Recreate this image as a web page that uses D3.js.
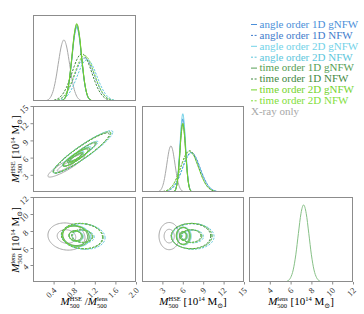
<!DOCTYPE html>
<meta charset="utf-8">
<head>
<script src="https://cdn.jsdelivr.net/npm/d3@7"></script>
<style>
    body { margin: 0; background: #fff; }
    text { font-family: "Liberation Serif", "DejaVu Serif", serif; white-space: pre; }
    .frame { fill: none; stroke: #8c8c8c; stroke-width: 1; }
    .axis line { stroke: #8c8c8c; }
    .axis text { font-size: 8.5px; fill: #333; }
</style>
</head>
<body>
<script>

// series (legend order)
var seriesNames = ["angle order 1D gNFW", "angle order 1D NFW", "angle order 2D gNFW", "angle order 2D NFW",
    "time order 1D gNFW", "time order 1D NFW", "time order 2D gNFW", "time order 2D NFW"];
var seriesColors = ["#4b8fd9", "#3f7ccc", "#72d2e8", "#5cc6dc", "#559e55", "#3f883f", "#74d42c", "#82de3a"];
var seriesDashed = [false, true, false, true, false, true, false, true];
var xrayName = "X-ray only";
var xrayColor = "#a8a8a8";

// tick labels
var ratioTicks = [0.4, 0.8, 1.2, 1.6, 2.0];
var hseTicks = [3, 6, 9, 12, 15];
var lensTicks = [4, 6, 8, 10, 12];

// 1D marginal densities (relative height), ratio M_HSE/M_lens
var ratioGrid = [0.20,0.25,0.30,0.35,0.40,0.45,0.50,0.55,0.60,0.65,0.70,0.75,0.80,0.85,0.90,0.95,1.00,
    1.05,1.10,1.15,1.20,1.25,1.30,1.35,1.40,1.45,1.50,1.55,1.60,1.65,1.70,1.75,1.80];
var ratioXray = [0.001,0.004,0.017,0.054,0.136,0.28,0.47,0.64,0.71,0.64,0.47,0.28,0.136,0.054,0.017,0.004,0.001,
    0,0,0,0,0,0,0,0,0,0,0,0,0,0,0,0];
var ratioDens = [
    [0,0,0,0,0,0,0,0.003,0.018,0.073,0.214,0.464,0.737,0.86,0.737,0.464,0.214,0.073,0.018,0.003,0,0,0,0,0,0,0,0,0,0,0,0,0],
    [0,0,0.0005,0.001,0.003,0.008,0.016,0.03,0.055,0.092,0.144,0.211,0.288,0.366,0.436,0.483,0.5,0.483,0.436,0.366,0.288,0.211,0.144,0.092,0.055,0.03,0.016,0.008,0.003,0.001,0.0005,0,0],
    [0,0,0,0,0,0,0,0.003,0.018,0.074,0.217,0.47,0.746,0.87,0.746,0.47,0.217,0.074,0.018,0.003,0,0,0,0,0,0,0,0,0,0,0,0,0],
    [0,0,0,0,0.001,0.003,0.007,0.015,0.029,0.052,0.088,0.138,0.202,0.276,0.351,0.418,0.464,0.48,0.464,0.418,0.351,0.276,0.202,0.138,0.088,0.052,0.029,0.015,0.007,0.003,0.001,0,0],
    [0,0,0,0,0,0,0,0.003,0.019,0.075,0.222,0.481,0.763,0.89,0.763,0.481,0.222,0.075,0.019,0.003,0,0,0,0,0,0,0,0,0,0,0,0,0],
    [0,0.001,0.002,0.004,0.008,0.017,0.033,0.06,0.101,0.158,0.232,0.316,0.403,0.479,0.531,0.55,0.531,0.479,0.403,0.316,0.232,0.158,0.101,0.06,0.033,0.017,0.008,0.004,0.002,0.001,0,0,0],
    [0,0,0,0,0,0,0,0.004,0.019,0.076,0.224,0.486,0.771,0.9,0.771,0.486,0.224,0.076,0.019,0.004,0,0,0,0,0,0,0,0,0,0,0,0,0],
    [0,0,0.001,0.002,0.004,0.008,0.017,0.032,0.058,0.097,0.152,0.223,0.305,0.388,0.462,0.512,0.53,0.512,0.462,0.388,0.305,0.223,0.152,0.097,0.058,0.032,0.017,0.008,0.004,0.002,0.001,0,0]
];

// 1D marginal densities, M500 grid [1e14 Msun]
var massGrid = [2,2.25,2.5,2.75,3,3.25,3.5,3.75,4,4.25,4.5,4.75,5,5.25,5.5,5.75,6,6.25,6.5,6.75,7,
    7.25,7.5,7.75,8,8.25,8.5,8.75,9,9.25,9.5,9.75,10,10.25,10.5,10.75,11,11.25,11.5,11.75,12];
var hseXray = [0.0005,0.002,0.0075,0.024,0.061,0.133,0.245,0.378,0.491,0.535,0.491,0.378,0.245,0.133,0.061,0.024,0.0075,0.002,0.0005,
    0,0,0,0,0,0,0,0,0,0,0,0,0,0,0,0,0,0,0,0,0,0];
var hseDens = [
    [0,0,0,0,0,0,0,0,0,0,0.001,0.008,0.043,0.16,0.404,0.706,0.85,0.706,0.404,0.16,0.043,0.008,0.001,0,0,0,0,0,0,0,0,0,0,0,0,0,0,0,0,0,0],
    [0,0.0003,0.0006,0.001,0.002,0.004,0.007,0.012,0.02,0.032,0.049,0.072,0.103,0.141,0.186,0.236,0.29,0.342,0.39,0.427,0.452,0.46,0.452,0.427,0.39,0.342,0.29,0.236,0.186,0.141,0.103,0.072,0.049,0.032,0.02,0.012,0.007,0.004,0.002,0.001,0.0006],
    [0,0,0,0,0,0,0,0,0,0,0.001,0.009,0.046,0.171,0.432,0.755,0.91,0.755,0.432,0.171,0.046,0.009,0.001,0,0,0,0,0,0,0,0,0,0,0,0,0,0,0,0,0,0],
    [0,0.0003,0.0006,0.001,0.002,0.004,0.007,0.012,0.02,0.032,0.048,0.071,0.101,0.138,0.182,0.231,0.284,0.335,0.381,0.418,0.442,0.45,0.442,0.418,0.381,0.335,0.284,0.231,0.182,0.138,0.101,0.071,0.048,0.032,0.02,0.012,0.007,0.004,0.002,0.001,0.0006],
    [0,0,0,0,0,0,0,0,0,0,0.001,0.008,0.04,0.149,0.375,0.656,0.79,0.656,0.375,0.149,0.04,0.008,0.001,0,0,0,0,0,0,0,0,0,0,0,0,0,0,0,0,0,0],
    [0.0003,0.0006,0.001,0.002,0.004,0.008,0.013,0.021,0.034,0.051,0.075,0.108,0.147,0.194,0.247,0.302,0.357,0.407,0.446,0.471,0.48,0.471,0.446,0.407,0.357,0.302,0.247,0.194,0.147,0.108,0.075,0.051,0.034,0.021,0.013,0.008,0.004,0.002,0.001,0.0006,0.0003],
    [0,0,0,0,0,0,0,0,0,0,0.001,0.008,0.041,0.15,0.38,0.664,0.8,0.664,0.38,0.15,0.041,0.008,0.001,0,0,0,0,0,0,0,0,0,0,0,0,0,0,0,0,0,0],
    [0.0003,0.0006,0.001,0.002,0.004,0.0075,0.013,0.021,0.033,0.05,0.074,0.105,0.144,0.19,0.242,0.296,0.35,0.398,0.437,0.462,0.47,0.462,0.437,0.398,0.35,0.296,0.242,0.19,0.144,0.105,0.074,0.05,0.033,0.021,0.013,0.0075,0.004,0.002,0.001,0.0006,0.0003]
];
var lensDens = [0,0,0,0,0,0,0,0,0,0,0,0,0,0.0005,0.003,0.0145,0.051,0.142,0.32,0.571,0.808,0.907,0.808,0.571,0.32,0.142,0.051,0.0145,0.003,0.0005,
    0,0,0,0,0,0,0,0,0,0,0];
var lensColor = "#86c086";

// 2D contours: [centre x, centre y, sigma x, sigma y, correlation], drawn at 1 and 2 sigma
var contourLevels = [1, 2];
var ratioHseXray = [0.65, 4.6, 0.18, 1.0, 0.9];
var ratioHseEll = [
    [0.84, 6.1, 0.13, 0.8, 0.9], [0.95, 6.9, 0.28, 1.8, 0.93],
    [0.85, 6.2, 0.14, 0.85, 0.9], [0.97, 7.0, 0.29, 1.85, 0.93],
    [0.83, 6.0, 0.12, 0.75, 0.9], [0.94, 6.8, 0.27, 1.75, 0.93],
    [0.84, 6.1, 0.13, 0.8, 0.9], [0.95, 6.9, 0.28, 1.8, 0.93]
];
var ratioLensXray = [0.65, 7.35, 0.18, 0.8, -0.1];
var ratioLensEll = [
    [0.83, 7.4, 0.13, 0.6, -0.1], [0.96, 7.4, 0.2, 0.75, -0.1],
    [0.84, 7.4, 0.14, 0.62, -0.1], [0.98, 7.35, 0.21, 0.75, -0.1],
    [0.82, 7.45, 0.12, 0.58, -0.1], [0.95, 7.4, 0.2, 0.74, -0.1],
    [0.83, 7.4, 0.13, 0.6, -0.1], [0.96, 7.4, 0.2, 0.75, -0.1]
];
var hseLensXray = [4.0, 7.4, 0.75, 0.8, 0];
var hseLensEll = [
    [6.1, 7.4, 0.5, 0.5, 0], [7.3, 7.4, 1.5, 0.75, 0],
    [6.2, 7.4, 0.52, 0.52, 0], [7.5, 7.35, 1.55, 0.75, 0],
    [6.0, 7.45, 0.48, 0.5, 0], [7.2, 7.4, 1.45, 0.74, 0],
    [6.1, 7.4, 0.5, 0.5, 0], [7.3, 7.4, 1.5, 0.75, 0]
];

var width = 364, height = 314;
var svg = d3.select("body").append("svg")
    .attr("width", width)
    .attr("height", height);

// scales
var xRatio = d3.scaleLinear().domain([0, 2]).range([33, 136]);
var xHse = d3.scaleLinear().domain([0, 15]).range([142, 244]);
var xLens = d3.scaleLinear().domain([2, 12]).range([249, 353]);
var yHse = d3.scaleLinear().domain([0, 15]).range([192, 106]);
var yLens = d3.scaleLinear().domain([2, 12]).range([282, 197]);
var yDens1 = d3.scaleLinear().domain([0, 1]).range([101, 15]);
var yDens2 = d3.scaleLinear().domain([0, 1]).range([192, 106]);
var yDens3 = d3.scaleLinear().domain([0, 1]).range([282, 197]);

var clipId = 0;
function panel(xs, ys) {
    var x0 = xs.range()[0], x1 = xs.range()[1], y0 = ys.range()[1], y1 = ys.range()[0];
    var id = "clip" + (clipId++);
    svg.append("clipPath").attr("id", id).append("rect")
        .attr("x", x0).attr("y", y0).attr("width", x1 - x0).attr("height", y1 - y0);
    var g = svg.append("g").attr("clip-path", "url(#" + id + ")");
    g.frame = function () {
        svg.append("rect").attr("class", "frame")
            .attr("x", x0 + 0.5).attr("y", y0 + 0.5)
            .attr("width", x1 - x0 - 1).attr("height", y1 - y0 - 1);
    };
    return g;
}

function drawHist(g, xs, ys, grid, dens, color, dashed) {
    var line = d3.line()
        .x(function (d, i) { return xs(grid[i]); })
        .y(function (d) { return ys(d); })
        .curve(d3.curveMonotoneX);
    g.append("path")
        .attr("d", line(dens))
        .attr("fill", "none")
        .attr("stroke", color)
        .attr("stroke-width", 1)
        .attr("stroke-dasharray", dashed ? "2.2,1.4" : null);
}

function drawEllipses(g, xs, ys, p, color, dashed) {
    var steps = d3.range(0, 2 * Math.PI, Math.PI / 40);
    contourLevels.forEach(function (r) {
        var pts = steps.map(function (t) {
            var u = Math.cos(t), v = Math.sin(t);
            return [xs(p[0] + r * p[2] * u), ys(p[1] + r * p[3] * (p[4] * u + Math.sqrt(1 - p[4] * p[4]) * v))];
        });
        g.append("path")
            .attr("d", d3.line().curve(d3.curveLinearClosed)(pts))
            .attr("fill", "none")
            .attr("stroke", color)
            .attr("stroke-width", 1)
            .attr("stroke-dasharray", dashed ? "2.2,1.4" : null);
    });
}

// top-left: ratio marginal
var pA = panel(xRatio, yDens1);
drawHist(pA, xRatio, yDens1, ratioGrid, ratioXray, xrayColor, false);
ratioDens.forEach(function (d, i) { drawHist(pA, xRatio, yDens1, ratioGrid, d, seriesColors[i], seriesDashed[i]); });
pA.frame();

// middle-left: ratio vs M_HSE
var pB = panel(xRatio, yHse);
drawEllipses(pB, xRatio, yHse, ratioHseXray, xrayColor, false);
ratioHseEll.forEach(function (p, i) { drawEllipses(pB, xRatio, yHse, p, seriesColors[i], seriesDashed[i]); });
pB.frame();

// middle: M_HSE marginal
var pC = panel(xHse, yDens2);
drawHist(pC, xHse, yDens2, massGrid, hseXray, xrayColor, false);
hseDens.forEach(function (d, i) { drawHist(pC, xHse, yDens2, massGrid, d, seriesColors[i], seriesDashed[i]); });
pC.frame();

// bottom-left: ratio vs M_lens
var pD = panel(xRatio, yLens);
drawEllipses(pD, xRatio, yLens, ratioLensXray, xrayColor, false);
ratioLensEll.forEach(function (p, i) { drawEllipses(pD, xRatio, yLens, p, seriesColors[i], seriesDashed[i]); });
pD.frame();

// bottom-middle: M_HSE vs M_lens
var pE = panel(xHse, yLens);
drawEllipses(pE, xHse, yLens, hseLensXray, xrayColor, false);
hseLensEll.forEach(function (p, i) { drawEllipses(pE, xHse, yLens, p, seriesColors[i], seriesDashed[i]); });
pE.frame();

// bottom-right: M_lens marginal
var pF = panel(xLens, yDens3);
drawHist(pF, xLens, yDens3, massGrid, lensDens, lensColor, false);
pF.frame();

// axes
function bottomAxis(xs, ticks, fmt) {
    svg.append("g").attr("class", "axis")
        .attr("transform", "translate(0,282)")
        .call(d3.axisBottom(xs).tickValues(ticks).tickSize(2.5).tickFormat(fmt))
        .call(function (g) { g.select(".domain").remove(); })
        .selectAll("text")
        .attr("x", 0).attr("y", 0).attr("dy", 0)
        .attr("transform", "translate(3,9) rotate(-45)")
        .style("text-anchor", "end");
}
function leftAxis(ys, ticks) {
    svg.append("g").attr("class", "axis")
        .attr("transform", "translate(33,0)")
        .call(d3.axisLeft(ys).tickValues(ticks).tickSize(2.5).tickFormat(d3.format("d")))
        .call(function (g) { g.select(".domain").remove(); })
        .selectAll("text")
        .attr("x", 0).attr("y", 0).attr("dy", 0)
        .attr("transform", "translate(-4,2) rotate(-45)")
        .style("text-anchor", "end");
}
bottomAxis(xRatio, ratioTicks, d3.format(".1f"));
bottomAxis(xHse, hseTicks, d3.format("d"));
bottomAxis(xLens, lensTicks, d3.format("d"));
leftAxis(yHse, hseTicks);
leftAxis(yLens, lensTicks);

// axis titles with stacked super/subscripts
function richLabel(parent, pieces) {
    var g = parent.append("g"), x = 0;
    pieces.forEach(function (p) {
        if (p.stack) {
            var a = g.append("text").attr("x", x).attr("y", -4.3).style("font-size", "6.5px").text(p.stack[0]);
            var b = g.append("text").attr("x", x).attr("y", 2.8).style("font-size", "6.5px").text(p.stack[1]);
            x += Math.max(a.node().getComputedTextLength(), b.node().getComputedTextLength());
        } else {
            var t = g.append("text").attr("x", x).attr("y", p.dy || 0)
                .style("font-size", (p.size || 11) + "px")
                .style("font-style", p.italic ? "italic" : "normal")
                .text(p.text);
            x += t.node().getComputedTextLength();
        }
    });
    g.selectAll("text").attr("transform", "translate(" + (-x / 2) + ",0)");
    return g;
}
function massPieces(sup) {
    return [{text: "M", italic: true}, {stack: [sup, "500"]}, {text: " [10"},
        {text: "14", size: 6.5, dy: -4.3}, {text: " M"}, {text: "\u2299", size: 7, dy: 2.5}, {text: "]"}];
}
richLabel(svg, [{text: "M", italic: true}, {stack: ["HSE", "500"]}, {text: " /"},
    {text: "M", italic: true}, {stack: ["lens", "500"]}])
    .attr("transform", "translate(84,305)");
richLabel(svg, massPieces("HSE")).attr("transform", "translate(193,305)");
richLabel(svg, massPieces("lens")).attr("transform", "translate(301,305)");
richLabel(svg, massPieces("HSE")).attr("transform", "translate(19,149) rotate(-90)");
richLabel(svg, massPieces("lens")).attr("transform", "translate(19,240) rotate(-90)");

// legend
var legend = svg.append("g").attr("transform", "translate(251,24)");
seriesNames.forEach(function (name, i) {
    var row = legend.append("g").attr("transform", "translate(0," + (i * 10.9) + ")");
    row.append("line")
        .attr("x1", 0).attr("x2", 6).attr("y1", 0.5).attr("y2", 0.5)
        .attr("stroke", seriesColors[i]).attr("stroke-width", 1)
        .attr("stroke-dasharray", seriesDashed[i] ? "2,1.6" : null);
    row.append("text").attr("x", 8.5).attr("y", 3.8)
        .style("font-size", "11px").attr("fill", seriesColors[i]).text(name);
});
legend.append("text").attr("x", 0).attr("y", 8 * 10.9 + 3.8)
    .style("font-size", "11px").attr("fill", xrayColor).text(xrayName);

</script>
</body>
</html>
